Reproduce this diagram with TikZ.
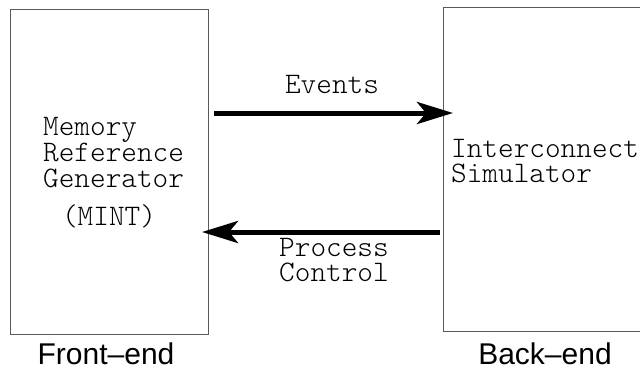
\documentclass[tikz,border=0pt]{standalone}
\usepackage{fontspec}
\setmainfont{Liberation Sans}
\newfontfamily\typefam{lmmonolt10-regular.otf}
\usetikzlibrary{arrows.meta}
\begin{document}
\begin{tikzpicture}[x=1pt,y=-1pt,
  block/.style={draw=black!65,line width=1.1pt,rectangle,inner sep=0pt,anchor=north west},
  mtext/.style={font=\typefam\fontsize{29.8}{29.8}\selectfont,inner sep=0pt},
  caption/.style={font=\fontsize{30}{30}\selectfont,inner sep=0pt,anchor=base},
  flow/.style={line width=5pt,-{Stealth[length=36pt,width=22pt,inset=9pt]}}]
\useasboundingbox (0,0) rectangle (640,368);
\clip (0,0) rectangle (640,368);
% the two halves of the simulator
\node[block,minimum width=198pt,minimum height=325pt] (fe) at (10,9) {};
\node[block,minimum width=230pt,minimum height=324pt] (be) at (443,7) {};
% front-end contents
\node[mtext,anchor=base west] (m1) at (43,135) {Memory};
\node[mtext,anchor=base west] (m2) at (43,161) {Reference};
\node[mtext,anchor=base west] (m3) at (43,187) {Generator};
\node[mtext,anchor=base] (m4) at (109,225) {(MINT)};
% back-end contents
\node[mtext,anchor=base west] (s1) at (451,157) {Interconnect};
\node[mtext,anchor=base west] (s2) at (451,182) {Simulator};
% connectors
\coordinate (evs) at (214,113);
\coordinate (eve) at (453,113);
\coordinate (pcs) at (440,232);
\coordinate (pce) at (202,232);
\draw[flow] (evs) -- (eve);
\draw[flow] (pcs) -- (pce);
\node[mtext,anchor=base] (ev) at (332,93) {Events};
\node[mtext,anchor=base] (pc1) at (334,256) {Process};
\node[mtext,anchor=base] (pc2) at (334,281) {Control};
% captions
\node[caption] (fel) at (106,364) {Front--end};
\node[caption] (bel) at (545,364) {Back--end};
\end{tikzpicture}
\end{document}
